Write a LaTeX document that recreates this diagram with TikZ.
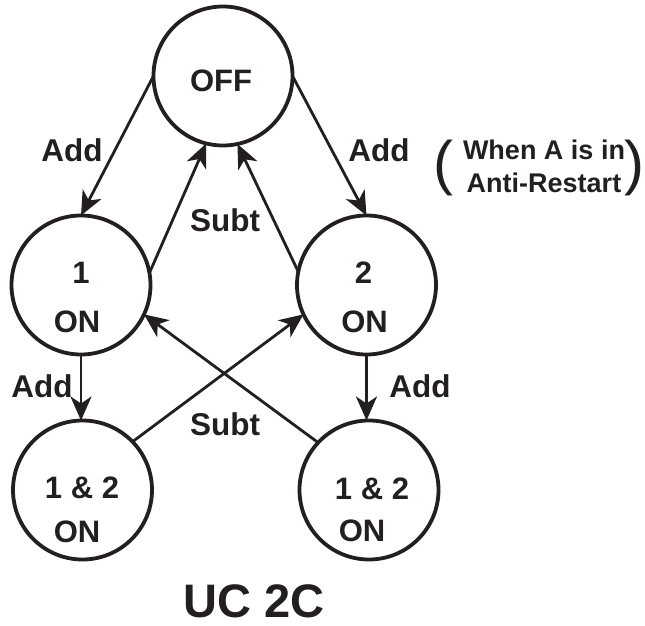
\documentclass[tikz,border=0pt]{standalone}
\usepackage{fontspec}
\setmainfont{Liberation Sans}
\usetikzlibrary{arrows.meta}
\definecolor{ink}{RGB}{35,31,32}
\begin{document}
\begin{tikzpicture}[x=1pt,y=-1pt,
  state/.style={circle, draw=ink, line width=3.8pt, minimum size=139pt, inner sep=0pt, outer sep=0pt},
  txt/.style={font=\fontsize{31}{31}\bfseries\selectfont, text=ink, inner sep=0pt, anchor=center},
  lbl/.style={font=\fontsize{31.5}{31.5}\bfseries\selectfont, text=ink, inner sep=0pt, anchor=center},
  note/.style={font=\fontsize{27}{27}\bfseries\selectfont, text=ink, inner sep=0pt, anchor=center},
  paren/.style={font=\fontsize{60}{60}\selectfont, text=ink, inner sep=0pt},
  arr/.style={draw=ink, line width=2.8pt, -{Stealth[length=24pt,width=21pt,inset=7pt]}},
]
\useasboundingbox (0,0) rectangle (645,626);

% states
\node[state] (off) at (223,76) {};
\node[state] (n1) at (81,285) {};
\node[state] (n2) at (366.5,285) {};
\node[state] (l12) at (82.5,490) {};
\node[state] (r12) at (369,490) {};

% state texts
\node[txt] (tOFF) at (221,81) {OFF};
\node[txt] (t1a) at (81,272.5) {1};
\node[txt] (t1b) at (77,322) {ON};
\node[txt] (t2a) at (363.5,273) {2};
\node[txt] (t2b) at (364.5,322) {ON};
\node[txt] (t3a) at (82,488) {1 \& 2};
\node[txt] (t3b) at (77,532) {ON};
\node[txt] (t4a) at (372,489) {1 \& 2};
\node[txt] (t4b) at (362,531) {ON};

% connectors
\draw[arr] (off.west) -- (n1.north);
\draw[arr] (off.east) -- (n2.north);
\draw[arr] (n1.10.7) -- (off.256.5);
\draw[arr] (n2.169.6) -- (off.282.7);
\draw[arr] (n1.south) -- (n1.south |- l12.north);
\draw[arr] (n2.south) -- (n2.south |- r12.north);
\draw[arr] (l12.44) -- (n2.205.7);
\draw[arr] (r12.137) -- (n1.335);

% labels
\node[lbl] (a1) at (72,150) {Add};
\node[lbl] (a2) at (379,150) {Add};
\node[lbl] (s1) at (225,220) {Subt};
\node[lbl] (a3) at (42,386) {Add};
\node[lbl] (a4) at (420,386) {Add};
\node[lbl] (s2) at (225,424) {Subt};

\node[note] (w1) at (544,150) {When A is in};
\node[note] (w2) at (544,182.5) {Anti-Restart};
\node[paren, anchor=center] (pl) at (443,168) {(};
\node[paren, anchor=east] (pr) at (645,168) {)};

\node[font=\fontsize{47}{47}\bfseries\selectfont, text=ink, inner sep=0pt] (title) at (254,601) {UC 2C};
\end{tikzpicture}
\end{document}
